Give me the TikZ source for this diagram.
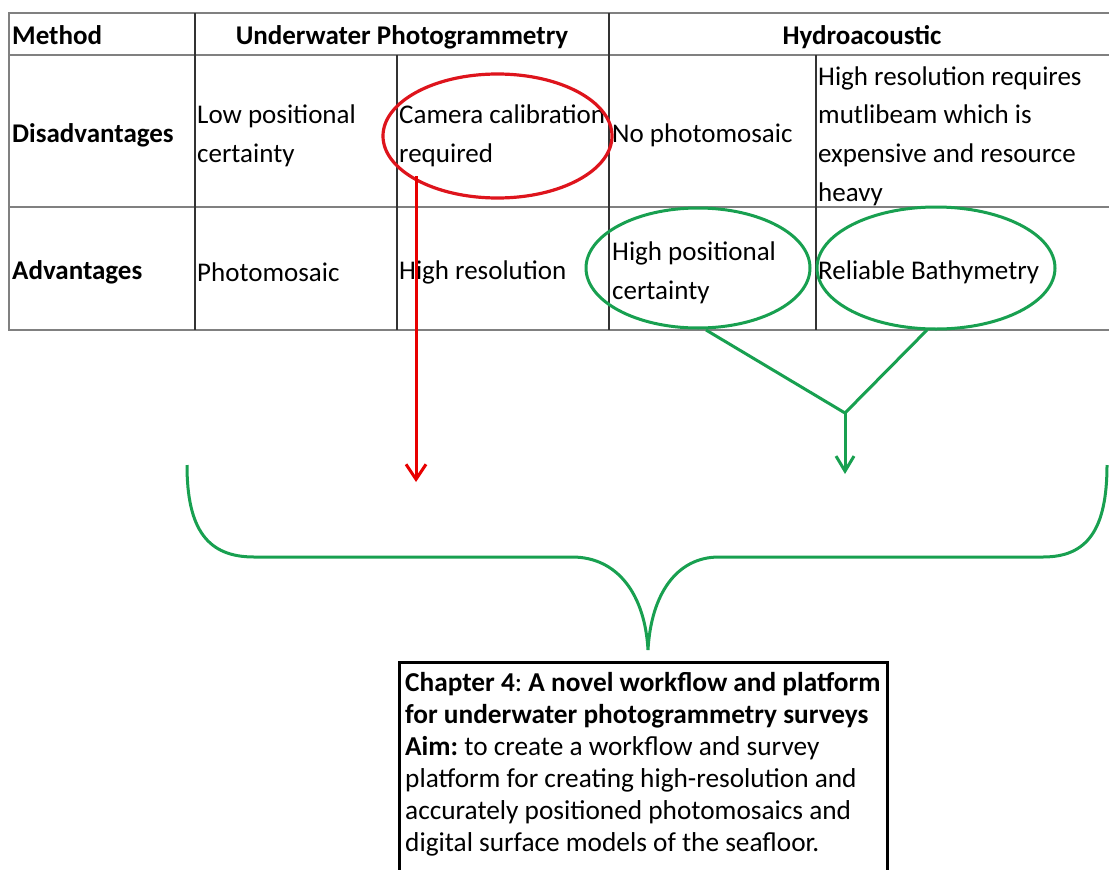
\documentclass[tikz,border=0pt]{standalone}
\usepackage{fontspec}
\setmainfont{Carlito}
\usetikzlibrary{arrows.meta,shapes.geometric}
\definecolor{myred}{RGB}{222,20,28}
\definecolor{arrred}{RGB}{232,0,0}
\definecolor{mygreen}{RGB}{24,160,80}
\definecolor{hline}{RGB}{128,128,128}
\frenchspacing
\begin{document}
\begin{tikzpicture}[x=1pt,y=-1pt,
  tabtext/.style={font=\fontsize{27}{38.7}\selectfont, anchor=west, inner sep=0pt, align=left},
  tabhead/.style={font=\bfseries\fontsize{27}{38.7}\selectfont, inner sep=0pt, text height=18pt, text depth=6pt},
  hrule/.style={draw=hline, line width=2pt},
  vrule/.style={draw=black!80, line width=1.3pt},
  redring/.style={ellipse, draw=myred, line width=3.2pt, inner sep=0pt},
  greenring/.style={ellipse, draw=mygreen, line width=3pt, inner sep=0pt},
  redarrow/.style={draw=arrred, line width=3pt, -{Straight Barb[length=15pt,width=20pt]}},
  greenline/.style={draw=mygreen, line width=3pt},
  greenarrow/.style={draw=mygreen, line width=3pt, -{Straight Barb[length=15pt,width=18pt]}},
  boxstyle/.style={draw=black, line width=3pt, inner sep=0pt, anchor=north west},
  boxtext/.style={font=\frenchspacing\fontsize{27.3}{32}\selectfont, anchor=north west, inner sep=0pt, align=left}
]
\useasboundingbox (0,0) rectangle (1109,870);
\clip (0,0) rectangle (1109,870);
\fill[white] (0,0) rectangle (1109,870);

% table rules
\draw[hrule] (8,13) -- (1109,13);
\draw[hrule] (8,55) -- (1109,55);
\draw[hrule] (8,207) -- (1109,207);
\draw[hrule] (8,330) -- (1109,330);
\draw[hrule] (9,13) -- (9,330);
\draw[vrule] (195,13) -- (195,330);
\draw[vrule] (397,55) -- (397,330);
\draw[vrule] (609,13) -- (609,330);
\draw[vrule] (816,55) -- (816,330);

% header
\node[tabhead, anchor=west] (hmethod) at (12,39) {Method};
\node[tabhead] (hphoto) at (402,39) {Underwater Photogrammetry};
\node[tabhead] (hhydro) at (862,39) {Hydroacoustic};

% row 1
\node[tabhead, anchor=west] (rdis) at (12,136) {Disadvantages};
\node[tabtext] (d1) at (197,135.5) {Low positional\\certainty};
\node[tabtext] (d2) at (399,135.5) {Camera calibration\\required};
\node[tabtext] (d3) at (612,135) {No photomosaic};
\node[tabtext] (d4) at (818,136) {High resolution requires\\mutlibeam which is\\expensive and resource\\heavy};

% row 2
\node[tabhead, anchor=west] (radv) at (12,273) {Advantages};
\node[tabtext] (a1) at (197,272) {Photomosaic};
\node[tabtext] (a2) at (399,272) {High resolution};
\node[tabtext] (a3) at (612,272.5) {High positional\\certainty};
\node[tabtext] (a4) at (818,272) {Reliable Bathymetry};

% rings
\node[redring, minimum width=229pt, minimum height=124pt] (redell) at (497.5,136) {};
\node[greenring, minimum width=224pt, minimum height=120pt] (gell1) at (698,268) {};
\node[greenring, minimum width=238pt, minimum height=122pt] (gell2) at (936,268) {};

% connectors
\coordinate (rstart) at (416,176);
\coordinate (redtip) at (416,482);
\coordinate (g1s) at (706,330);
\coordinate (g2s) at (927,330);
\coordinate (gj) at (845,413);
\coordinate (gtip) at (845,474);
\draw[redarrow] (rstart) -- (redtip);
\draw[greenline, line join=miter] (g1s) -- (gj) -- (g2s);
\draw[greenarrow] (gj) -- (gtip);

% brace
\coordinate (brl) at (187,465);
\coordinate (brr) at (1107,465);
\coordinate (brtip) at (648,650);
\draw[mygreen, line width=3pt]
  (brl) .. controls (187,530) and (208,557) .. (254,557)
  -- (572,557) .. controls (618,557) and (645,595) .. (brtip)
  .. controls (651,595) and (676,557) .. (719,557)
  -- (1043,557) .. controls (1087,557) and (1107,530) .. (brr);

% bottom box
\node[boxstyle, minimum width=488pt, minimum height=240pt] (box) at (398,661) {};
\node[boxtext] (boxtxt) at (405,672.5) {\textbf{Chapter 4}: \textbf{A novel workflow and platform}\\
\textbf{for underwater photogrammetry surveys}\\
\textbf{Aim:} to create a workflow and survey\\
platform for creating high-resolution and\\
accurately positioned photomosaics and\\
digital surface models of the seafloor.};
\end{tikzpicture}
\end{document}
